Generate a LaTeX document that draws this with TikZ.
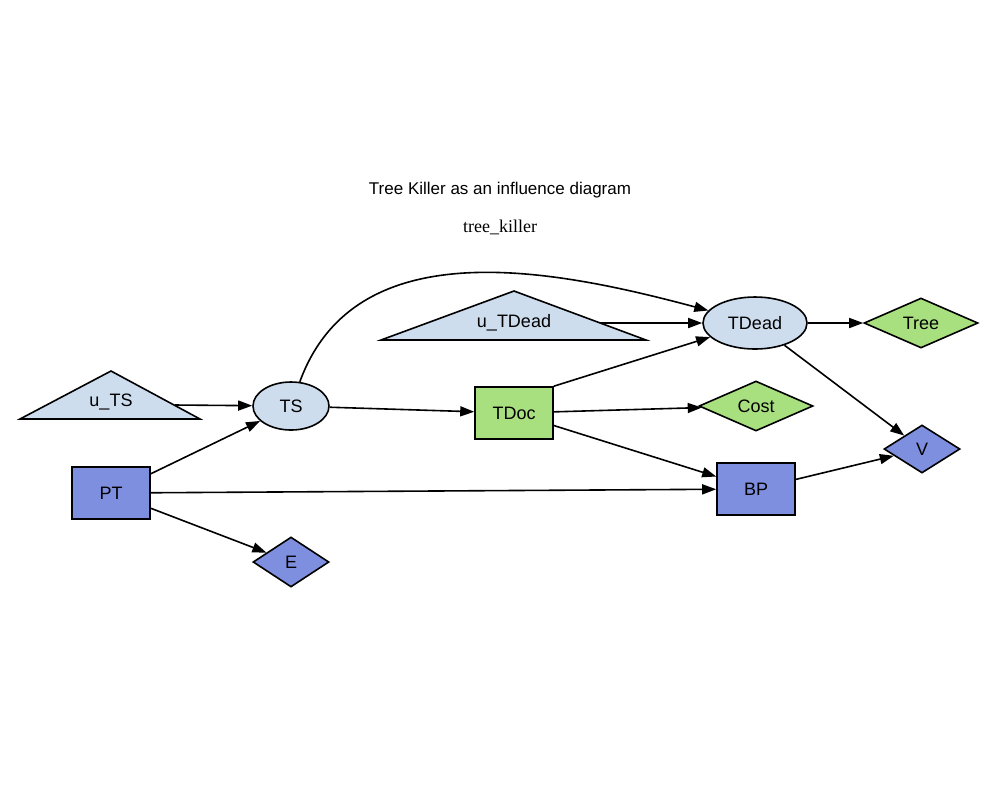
\documentclass[tikz,border=0pt]{standalone}
\usepackage{fontspec}
\setmainfont{Liberation Sans}
\newfontfamily\serifam{Liberation Serif}
\usetikzlibrary{shapes.geometric,arrows.meta}
\definecolor{lb}{HTML}{CEDDEE}
\definecolor{gr}{HTML}{A9E07F}
\definecolor{bl}{HTML}{7F8FE0}
\tikzset{
  every node/.style={font=\fontsize{9}{10}\selectfont},
  box/.style={draw, thick, minimum width=39pt, minimum height=26pt, inner sep=0pt},
  ell/.style={draw, thick, ellipse, fill=lb, inner sep=0pt},
  dia/.style={draw, thick, diamond, inner sep=0pt},
  tri/.style={draw, thick, fill=lb},
  arr/.style={draw, thick, -{Triangle[length=7pt,width=5pt]}},
}
\begin{document}
\begin{tikzpicture}[x=0.5pt,y=-0.5pt]
\useasboundingbox (0,0) rectangle (1000,800);
\node (title) at (500,190) {\fontsize{8.5}{10}\selectfont Tree Killer as an influence diagram};
\node (name) at (500,227) {\serifam\fontsize{9}{10}\selectfont tree\_killer};
\draw[tri] (20,419) -- (111,371) -- (200,419) -- cycle;
\node (uTS) at (111,402) {u\_TS};
\coordinate (uTSo) at (175,405);
\draw[tri] (381,340) -- (514,291) -- (646,340) -- cycle;
\node (uTD) at (514,323) {u\_TDead};
\coordinate (uTDo) at (600,323);
\node[ell, minimum width=38pt, minimum height=24pt] (TS) at (291,406) {TS};
\node[ell, minimum width=52pt, minimum height=26pt] (TDead) at (755,323) {TDead};
\node[dia, fill=gr, minimum width=57pt, minimum height=25pt] (Tree) at (921,323) {Tree};
\node[box, fill=gr] (TDoc) at (514,413) {TDoc};
\node[dia, fill=gr, minimum width=57pt, minimum height=25pt] (Cost) at (756,406) {Cost};
\node[box, fill=bl] (PT) at (111,493) {PT};
\node[box, fill=bl] (BP) at (756,489) {BP};
\node[dia, fill=bl, minimum width=38pt, minimum height=24pt] (V) at (922,449) {V};
\node[dia, fill=bl, minimum width=38pt, minimum height=25pt] (E) at (291,562) {E};
\draw[arr] (uTSo) -- (TS);
\draw[arr] (uTDo) -- (TDead);
\draw[arr] (TS) to[out=70,in=165] (TDead);
\draw[arr] (TS) -- (TDoc);
\draw[arr] (TDead) -- (Tree);
\draw[arr] (TDead) -- (V);
\draw[arr] (TDoc.north east) -- (TDead);
\draw[arr] (TDoc) -- (Cost);
\draw[arr] (TDoc) -- (BP);
\draw[arr] (PT) -- (TS);
\draw[arr] (PT) -- (BP);
\draw[arr] (PT) -- (E);
\draw[arr] (BP) -- (V);
\end{tikzpicture}
\end{document}
